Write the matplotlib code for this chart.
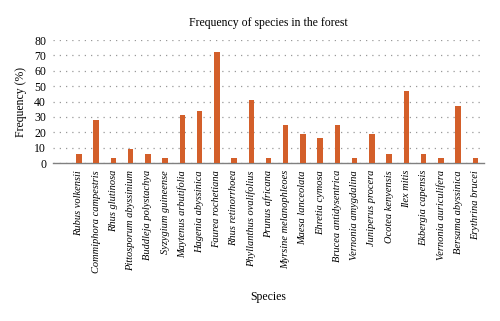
import matplotlib.pyplot as plt
import numpy as np

species = ['Rubus volkensii', 'Commiphora campestris', 'Rhus glutinosa',
           'Pittosporum abyssinium', 'Buddleja polystachya', 'Syzygium guineense',
           'Maytenus arbutifolia', 'Hagenia abyssinica', 'Faurea rochetiana',
           'Rhus retinorrhoea', 'Phyllanthus ovalifolius', 'Prunus africana',
           'Myrsine melanophleoes', 'Maesa lanceolata', 'Ehretia cymosa',
           'Brucea antidysentrica', 'Vernonia amygdalina', 'Juniperus procera',
           'Ocotea kenyensis', 'Ilex mitis', 'Ekbergia capensis',
           'Vernonia auriculifera', 'Bersama abyssinica', 'Erythrina brucei']
frequency = [6, 28, 3, 9, 6, 3, 31, 34, 72, 3, 41, 3,
             25, 19, 16, 25, 3, 19, 6, 47, 6, 3, 37, 3]


def main():
    plt.rcParams['font.family'] = ['Liberation Serif', 'DejaVu Serif']

    fig = plt.figure(figsize=(5, 3.21), dpi=100)
    ax = fig.add_axes([0.106, 0.492, 0.862, 0.383])

    x = np.arange(len(species))
    ax.bar(x, frequency, width=0.32, color='#d35f2a', zorder=3)

    ax.set_xlim(-1.5, len(species) - 0.5)
    ax.set_ylim(0, 80)
    ax.set_yticks(np.arange(0, 81, 10))
    ax.set_xticks(x)
    ax.set_xticklabels(species, rotation=90, style='italic', fontsize=7.5)
    ax.tick_params(axis='y', length=0, labelsize=8.5, pad=5)
    ax.tick_params(axis='x', length=0, pad=5)

    ax.grid(axis='y', linestyle=(0, (1, 4)), color='#999999', linewidth=0.9, zorder=0)
    for s in ['top', 'right', 'left']:
        ax.spines[s].set_visible(False)
    ax.spines['bottom'].set_color('#808080')
    ax.spines['bottom'].set_linewidth(1.0)

    ax.set_title('Frequency of species in the forest', fontsize=8.5, pad=10)
    ax.set_ylabel('Frequency (%)', fontsize=8.5, labelpad=5)
    fig.text(0.537, 0.065, 'Species', fontsize=8.5, ha='center')

    plt.savefig('out.png', dpi=100)


if __name__ == "__main__":
    main()
